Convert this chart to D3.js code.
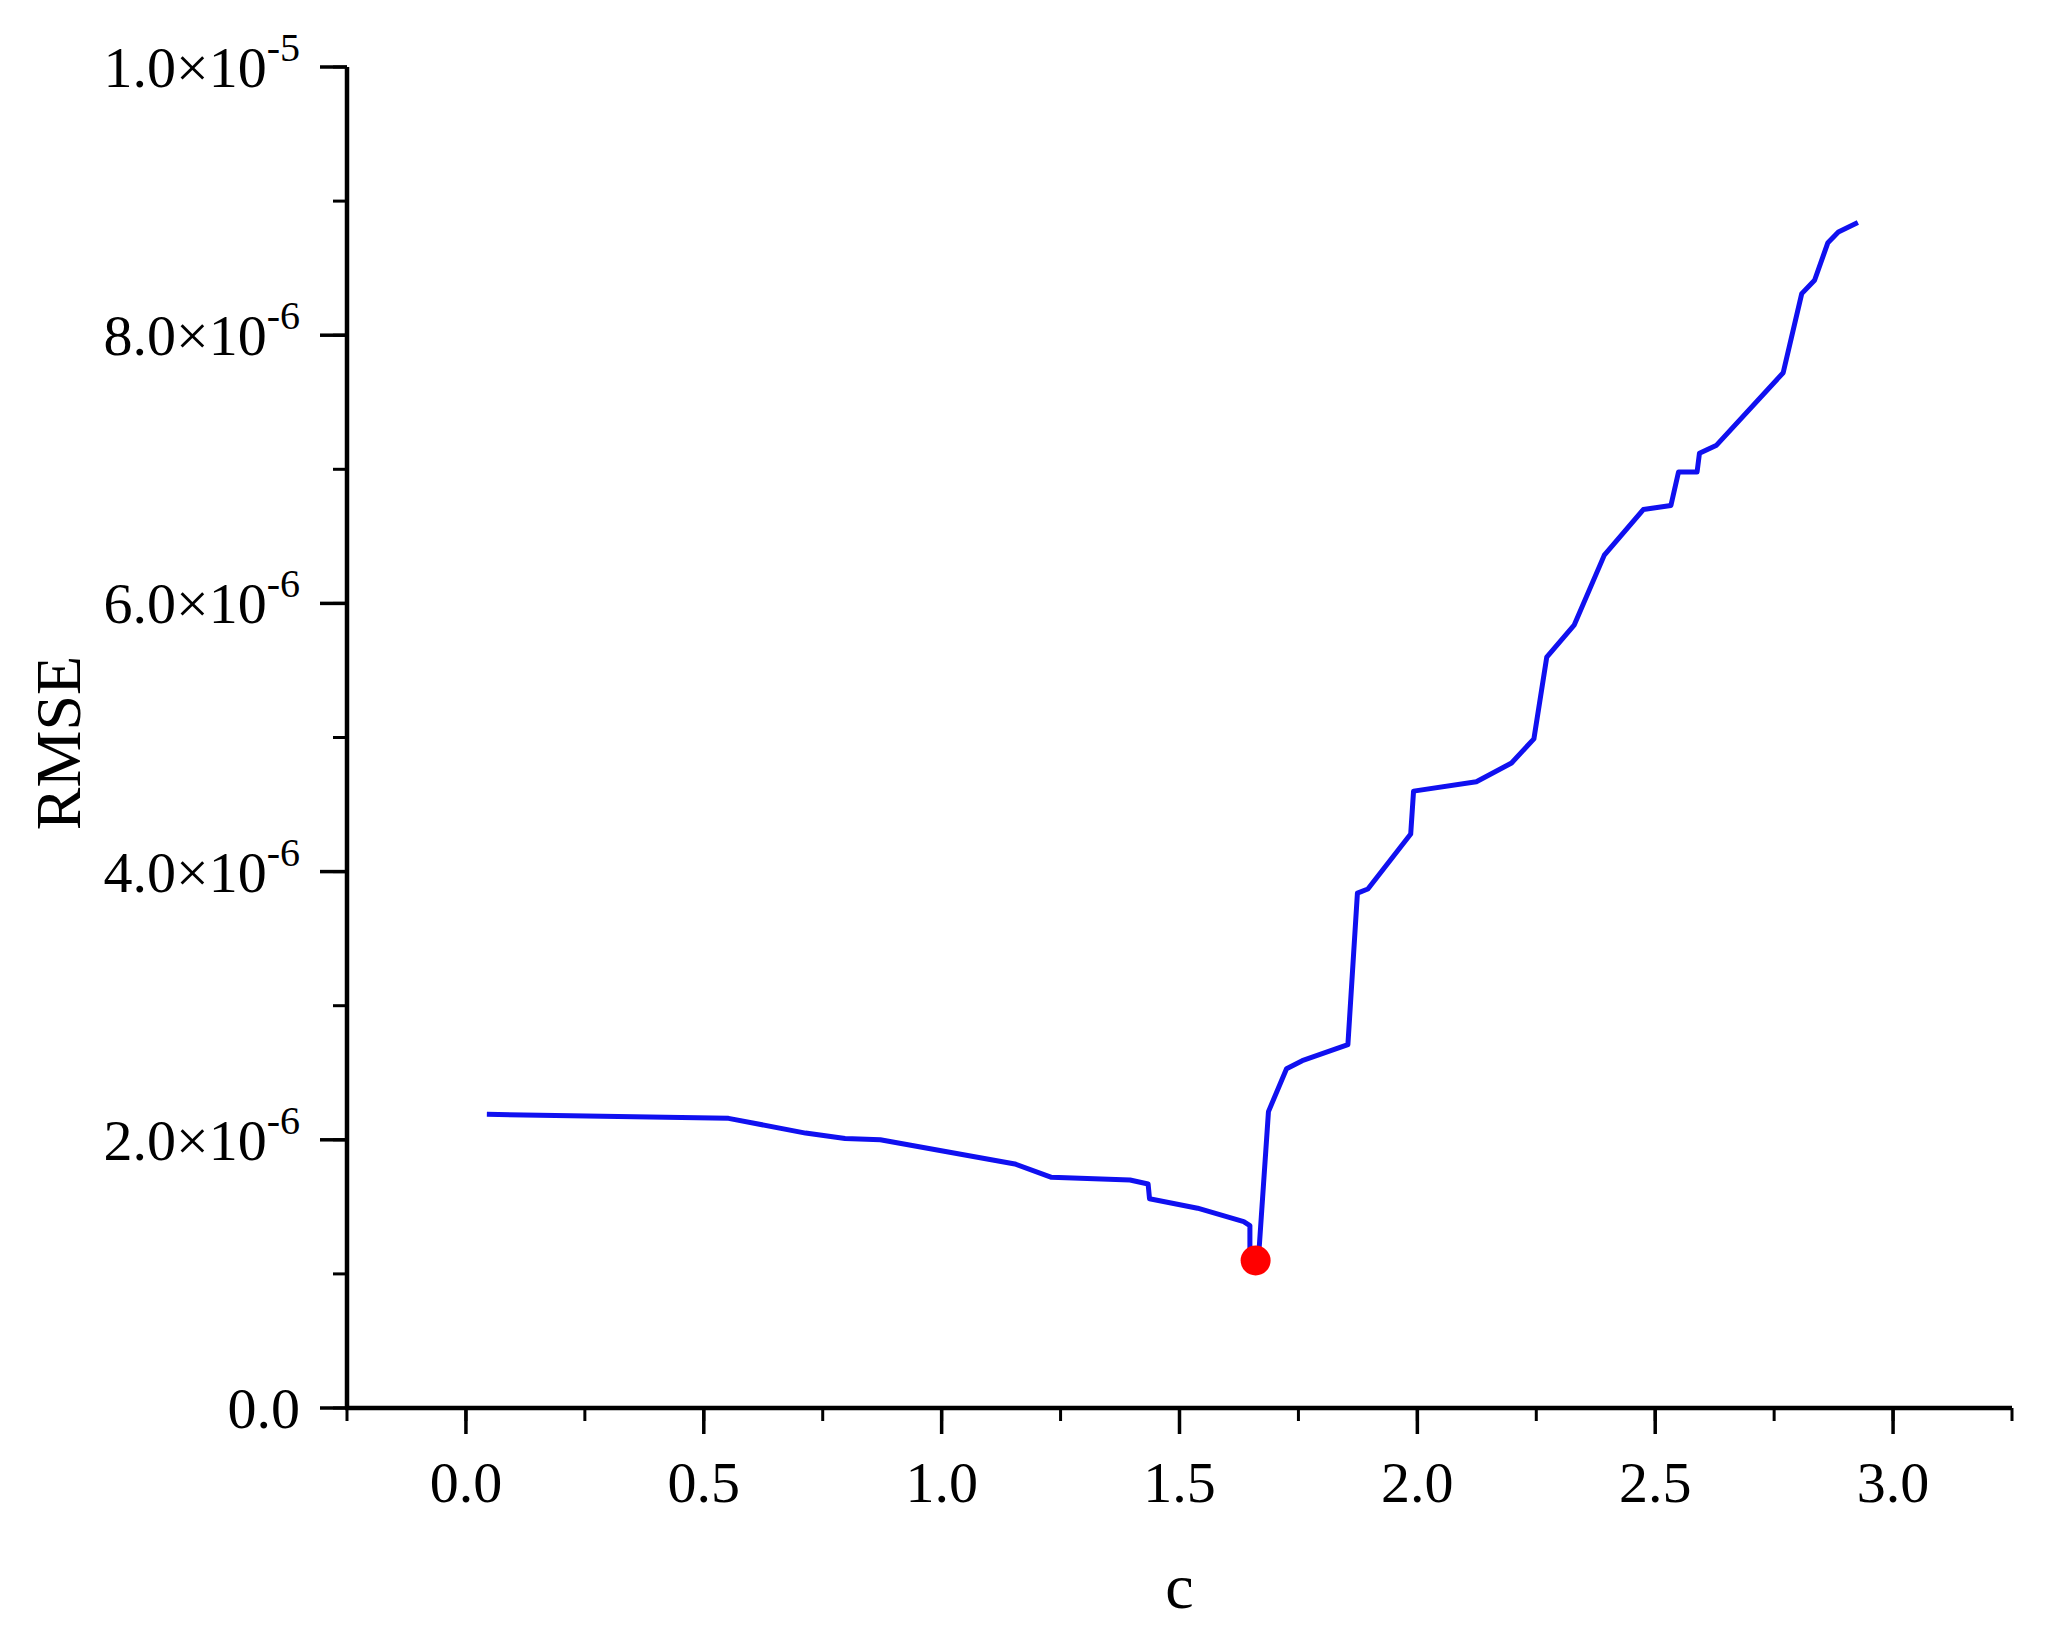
<!DOCTYPE html>
<html><head><meta charset="utf-8">
<script src="https://cdn.jsdelivr.net/npm/d3@7"></script>
<style>body{margin:0;background:#fff}text{font-family:"Liberation Serif","Times New Roman",serif;fill:#000}</style>
</head><body><div id="chart"></div>
<script>
// c values and RMSE curve
const cValues = [0.044,0.552,0.714,0.797,0.871,1.154,1.231,1.396,1.434,1.437,1.538,1.635,1.648,1.648,1.665,1.668,1.687,1.725,1.758,1.854,1.874,1.896,1.986,1.992,2.124,2.198,2.245,2.272,2.330,2.393,2.475,2.533,2.549,2.588,2.593,2.629,2.769,2.808,2.835,2.863,2.885,2.926];
const rmseValues = [2.19,2.16,2.05,2.01,2.00,1.82,1.72,1.70,1.67,1.56,1.49,1.39,1.36,1.19,1.10,1.22,2.21,2.53,2.59,2.71,3.84,3.87,4.28,4.60,4.67,4.81,4.99,5.60,5.84,6.36,6.70,6.73,6.98,6.98,7.12,7.18,7.72,8.31,8.41,8.69,8.77,8.84].map(v => v * 1e-6);
const bestPoint = {c: 1.66, rmse: 1.10e-6};
const xTicks = [0,0.5,1,1.5,2,2.5,3];
const yTicks = [0,2e-6,4e-6,6e-6,8e-6,1e-5];

const W = 2052, H = 1643;
const svg = d3.select('#chart').append('svg').attr('width', W).attr('height', H);
const x = d3.scaleLinear().domain([-0.25, 3.25]).range([347, 2012]);
const y = d3.scaleLinear().domain([0, 1e-5]).range([1408, 67]);

const g = svg.append('g');
// minor ticks
g.selectAll('.xm').data(d3.range(-0.25, 3.26, 0.25)).enter().append('line')
  .attr('x1', d => x(d)).attr('x2', d => x(d)).attr('y1', y(0)).attr('y2', y(0) + 13)
  .attr('stroke', '#000').attr('stroke-width', 3);
g.selectAll('.ym').data(d3.range(0, 11).map(i => i * 1e-6)).enter().append('line')
  .attr('y1', d => y(d)).attr('y2', d => y(d)).attr('x1', x(-0.25)).attr('x2', x(-0.25) - 14)
  .attr('stroke', '#000').attr('stroke-width', 3);
// major ticks
g.selectAll('.xM').data(xTicks).enter().append('line')
  .attr('x1', d => x(d)).attr('x2', d => x(d)).attr('y1', y(0)).attr('y2', y(0) + 26)
  .attr('stroke', '#000').attr('stroke-width', 3.5);
g.selectAll('.yM').data(yTicks).enter().append('line')
  .attr('y1', d => y(d)).attr('y2', d => y(d)).attr('x1', x(-0.25)).attr('x2', x(-0.25) - 27)
  .attr('stroke', '#000').attr('stroke-width', 3.5);
// axis lines
g.append('line').attr('x1', x(-0.25)).attr('x2', x(-0.25)).attr('y1', y(1e-5)).attr('y2', y(0))
  .attr('stroke', '#000').attr('stroke-width', 4.5);
g.append('line').attr('x1', x(-0.25) - 2).attr('x2', x(3.25)).attr('y1', y(0)).attr('y2', y(0))
  .attr('stroke', '#000').attr('stroke-width', 4.5);

// tick labels
g.selectAll('.xl').data(xTicks).enter().append('text')
  .attr('x', d => x(d)).attr('y', 1502).attr('text-anchor', 'middle').attr('font-size', 58)
  .text(d => d.toFixed(1));
yTicks.forEach(v => {
  const t = g.append('text').attr('x', 300).attr('y', y(v) + 20).attr('text-anchor', 'end').attr('font-size', 58);
  if (v === 0) { t.text('0.0'); return; }
  const e = Math.floor(Math.log10(v) + 1e-9);
  const m = v / Math.pow(10, e);
  t.append('tspan').text(m.toFixed(1) + '×10');
  t.append('tspan').attr('font-size', 40).attr('dy', -26).text(e);
});

// axis titles
svg.append('text').attr('x', x(1.5)).attr('y', 1608).attr('text-anchor', 'middle').attr('font-size', 64).text('c');
svg.append('text').attr('transform', 'translate(80,743) rotate(-90)').attr('text-anchor', 'middle')
  .attr('font-size', 64).text('RMSE');

// curve
const line = d3.line().x(d => x(d[0])).y(d => y(d[1]));
svg.append('path').datum(d3.zip(cValues, rmseValues)).attr('d', line)
  .attr('fill', 'none').attr('stroke', '#1010f0').attr('stroke-width', 5).attr('stroke-linejoin', 'round');
svg.append('circle').attr('cx', x(bestPoint.c)).attr('cy', y(bestPoint.rmse)).attr('r', 15).attr('fill', '#ff0000');
</script></body></html>
